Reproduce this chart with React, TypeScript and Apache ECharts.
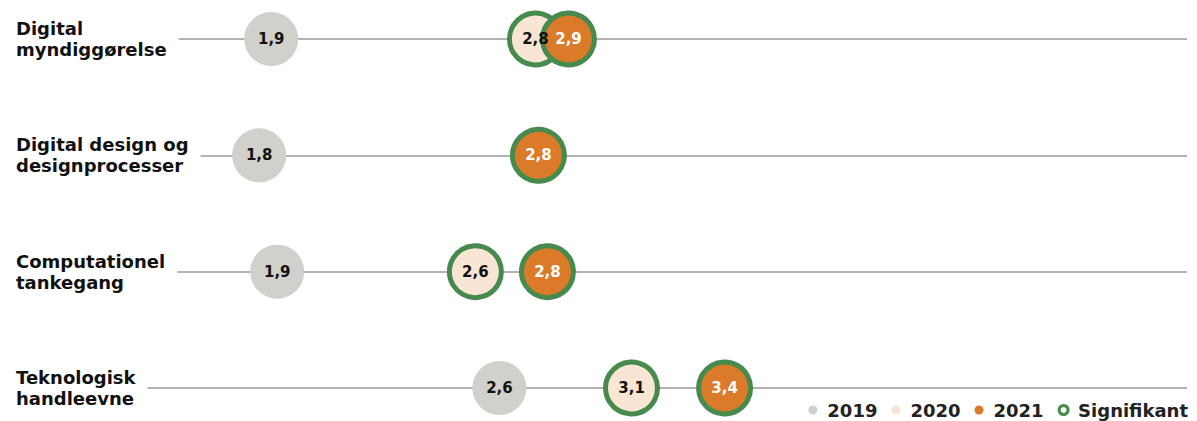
import React, { useEffect, useRef } from "react";
import * as echarts from "echarts";

const categories = [
  "Digital\nmyndiggørelse",
  "Digital design og\ndesignprocesser",
  "Computationel\ntankegang",
  "Teknologisk\nhandleevne",
];
const seriesNames = ["2019", "2020", "2021"];
const values2019 = [1.88, 1.84, 1.9, 2.64];
const values2020 = [2.76, null, 2.56, 3.08];
const values2021 = [2.87, 2.77, 2.8, 3.39];
const significant2019 = [false, false, false, false];
const significant2020 = [true, true, true, true];
const significant2021 = [true, true, true, true];
const significanceLabel = "Signifikant";
const X_MIN = 1;
const X_MAX = 4.93;

const FONT = "'DejaVu Sans', Verdana, sans-serif";
const GRAY = "#d1d0ca";
const PEACH = "#f9e5d4";
const ORANGE = "#db7b2a";
const GREEN = "#468a4e";
const LINE = "#999999";

const fmt = (v: number) => v.toFixed(1).replace(".", ",");

function makeSeries(
  name: string,
  values: (number | null)[],
  sig: boolean[],
  fill: string,
  textColor: string
) {
  return {
    type: "scatter",
    name,
    z: 3,
    yAxisIndex: 0,
    symbol: "circle",
    itemStyle: { color: fill, opacity: 1 },
    emphasis: { disabled: true },
    label: {
      show: true,
      position: "inside",
      formatter: (p: any) => fmt(p.value[0]),
      color: textColor,
      fontFamily: FONT,
      fontSize: 15,
      fontWeight: "bold",
      textBorderWidth: 0,
      textBorderColor: "transparent",
      textShadowBlur: 0,
      opacity: 1,
    },
    data: values.map((v, i) =>
      v === null
        ? { value: ["-", i] }
        : {
            value: [v, i],
            symbolSize: sig[i] ? 52 : 54,
            itemStyle: sig[i]
              ? { color: fill, borderColor: GREEN, borderWidth: 5, opacity: 1 }
              : { color: fill, opacity: 1 },
          }
    ),
  };
}

export default function App() {
  const ref = useRef<HTMLDivElement>(null);
  useEffect(() => {
    if (!ref.current) return;
    const chart = echarts.init(ref.current, undefined, { renderer: "svg" });
    chart.setOption({
      animation: false,
      backgroundColor: "#ffffff",
      grid: { left: 7, right: 10, top: 39, bottom: 33, outerBoundsMode: "none" },
      xAxis: {
        type: "value",
        min: X_MIN,
        max: X_MAX,
        show: false,
        splitLine: { show: false },
      },
      yAxis: [
        {
          type: "category",
          data: categories,
          inverse: true,
          boundaryGap: false,
          z: 0,
          axisLine: { show: false },
          axisTick: { show: false },
          axisLabel: { show: false },
          splitLine: {
            show: true,
            interval: 0,
            showMinLine: true,
            showMaxLine: true,
            lineStyle: { color: LINE, width: 1.6, type: "solid" },
          },
        },
        {
          type: "category",
          data: categories,
          inverse: true,
          boundaryGap: false,
          position: "left",
          z: 1,
          axisLine: { show: false },
          axisTick: { show: false },
          splitLine: { show: false },
          axisLabel: {
            inside: true,
            margin: 0,
            interval: 0,
            color: "#111",
            fontFamily: FONT,
            fontSize: 18,
            fontWeight: "bold",
            lineHeight: 21,
            backgroundColor: "#ffffff",
            padding: [0, 12, 0, 9],
          },
        },
      ],
      legend: {
        right: 4,
        top: 396,
        selectedMode: false,
        itemWidth: 9,
        itemHeight: 9,
        itemGap: 14,
        icon: "circle",
        textStyle: {
          fontFamily: FONT,
          fontSize: 18,
          fontWeight: "bold",
          color: "#222",
          padding: [0, 0, 0, 5],
        },
        data: [
          ...seriesNames,
          {
            name: significanceLabel,
            icon: "circle",
            itemStyle: { color: "#fff", borderColor: GREEN, borderWidth: 3, opacity: 1 },
          },
        ],
      },
      series: [
        {
          type: "scatter",
          name: significanceLabel,
          z: 3,
          data: [],
          itemStyle: { color: "#fff", borderColor: GREEN, borderWidth: 3, opacity: 1 },
        },
        makeSeries(seriesNames[0], values2019, significant2019, GRAY, "#111"),
        makeSeries(seriesNames[1], values2020, significant2020, PEACH, "#111"),
        makeSeries(seriesNames[2], values2021, significant2021, ORANGE, "#fff"),
      ],
    });
    return () => chart.dispose();
  }, []);
  return (
    <div
      ref={ref}
      style={{ position: "fixed", left: 0, top: 0, width: 1197, height: 421 }}
    />
  );
}
